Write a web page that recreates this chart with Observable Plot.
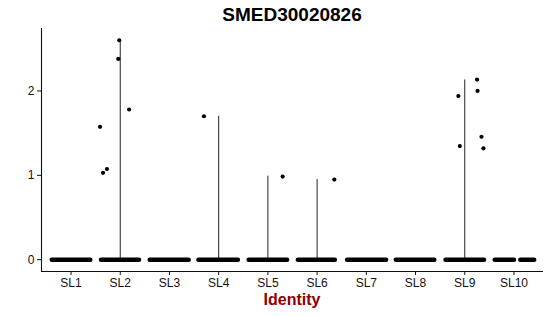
<!DOCTYPE html>
<html><head><meta charset="utf-8">
<script src="https://cdn.jsdelivr.net/npm/d3@7"></script>
<script src="https://cdn.jsdelivr.net/npm/@observablehq/plot@0.6"></script>
<style>
body{margin:0;background:#fff;font-family:"Liberation Sans",Arial,Helvetica,sans-serif;}
#wrap{position:relative;width:550px;height:316px;overflow:hidden;}
#title{position:absolute;left:41px;width:502px;top:3px;text-align:center;font-weight:bold;font-size:19px;color:#000;line-height:24px;}
#chart{position:absolute;left:0;top:28px;}
#xlabel{position:absolute;left:41px;width:502px;top:290px;text-align:center;font-weight:bold;font-size:16px;color:#8B0000;line-height:20px;}
</style></head>
<body><div id="wrap"><div id="title">SMED30020826</div><div id="chart"></div><div id="xlabel">Identity</div></div>
<script>
// categories
const categories = ["SL1","SL2","SL3","SL4","SL5","SL6","SL7","SL8","SL9","SL10"];
// maximum expression per identity (violin extent)
const violinMax = [0, 2.61, 0, 1.70, 0.99, 0.95, 0, 0, 2.13, 0];
// zero-valued jittered cells: horizontal extents (in category units, relative to centre)
const zeroCat = ["SL1","SL2","SL3","SL4","SL5","SL6","SL7","SL8","SL9","SL10","SL10"];
const zeroLo  = [-0.39,-0.39,-0.40,-0.41,-0.39,-0.39,-0.39,-0.40,-0.39,-0.39, 0.13];
const zeroHi  = [ 0.39, 0.38, 0.39, 0.39, 0.39, 0.36, 0.40, 0.38, 0.39, 0.00, 0.41];
// non-zero cells
const pointCat    = ["SL2","SL2","SL2","SL2","SL2","SL2","SL4","SL5","SL6","SL9","SL9","SL9","SL9","SL9","SL9"];
const pointJitter = [-0.41,-0.35,-0.27,-0.02,-0.04,0.18,-0.30,0.30,0.35,0.25,0.26,-0.13,0.34,-0.10,0.38];
const pointValue  = [1.575,1.03,1.075,2.60,2.38,1.78,1.70,0.985,0.95,2.135,2.0,1.94,1.457,1.347,1.32];
const yTicks = [0, 1, 2];
const xDomain = [0.4, 10.6];
const yDomain = [-0.14, 2.74];

const idx = c => categories.indexOf(c) + 1;
const violins = categories.map((c, i) => ({x: i + 1, y2: violinMax[i]})).filter(d => d.y2 > 0);
const zeros = zeroCat.map((c, i) => ({x1: idx(c) + zeroLo[i], x2: idx(c) + zeroHi[i], y: 0}));
const points = pointCat.map((c, i) => ({x: idx(c) + pointJitter[i], y: pointValue[i]}));

const plot = Plot.plot({
  width: 550, height: 262,
  marginLeft: 41, marginRight: 7, marginTop: 0, marginBottom: 19,
  style: {fontFamily: '"Liberation Sans", Arial, sans-serif', fontSize: "12px", color: "#111", background: "#fff"},
  x: {domain: xDomain, ticks: categories.map((c, i) => i + 1), tickFormat: d => categories[d - 1], tickSize: 4, tickPadding: 3, label: null},
  y: {domain: yDomain, ticks: yTicks, tickFormat: d => String(d), tickSize: 4, tickPadding: 3, label: null},
  marks: [
    Plot.ruleX(violins, {x: "x", y1: 0, y2: "y2", stroke: "#222", strokeWidth: 1}),
    Plot.link(zeros, {x1: "x1", x2: "x2", y1: "y", y2: "y", stroke: "#000", strokeWidth: 4.6, strokeLinecap: "round"}),
    Plot.dot(points, {x: "x", y: "y", r: 2.1, fill: "#000", stroke: "none"}),
    Plot.ruleY([yDomain[0]], {stroke: "#111", strokeWidth: 1.1}),
    Plot.ruleX([xDomain[0]], {stroke: "#111", strokeWidth: 1.1})
  ]
});
document.getElementById("chart").appendChild(plot);
</script></body></html>
